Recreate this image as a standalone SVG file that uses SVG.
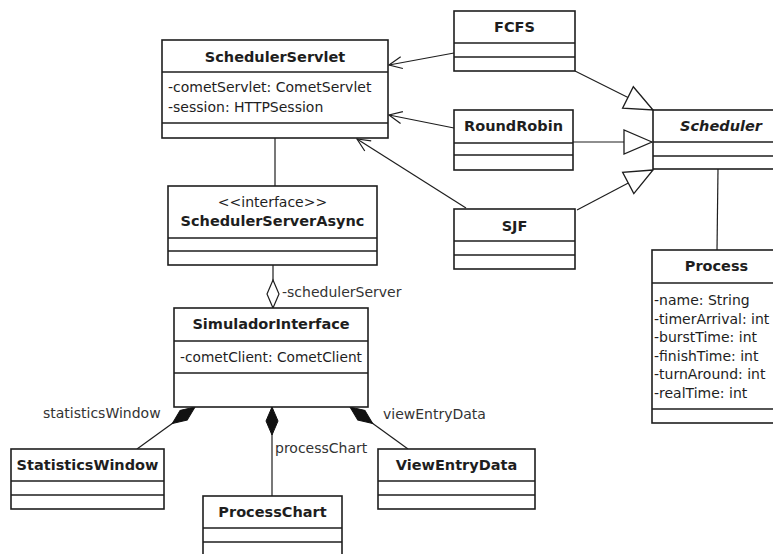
<svg xmlns="http://www.w3.org/2000/svg" width="773" height="554" viewBox="0 0 773 554">
<style>
  .box { fill: #ffffff; stroke: #1e1e1e; stroke-width: 1.6; }
  .sep { stroke: #1e1e1e; stroke-width: 1.6; }
  .name { font-family: "DejaVu Sans", Verdana, sans-serif; font-size: 14.5px; font-weight: bold; fill: #1e1e1e; text-anchor: middle; }
  .ital { font-style: italic; }
  .txt { font-family: "DejaVu Sans", Verdana, sans-serif; font-size: 14px; fill: #1e1e1e; }
  .mid { text-anchor: middle; }
  .lbl { font-family: "DejaVu Sans", Verdana, sans-serif; font-size: 14px; fill: #333333; }
  .conn { stroke: #1e1e1e; stroke-width: 1.2; fill: none; }
</style>
<defs>
  <marker id="triangle" markerUnits="userSpaceOnUse" markerWidth="30" markerHeight="26" refX="0" refY="0" orient="auto" overflow="visible">
    <path d="M0,0 L-28,-12 L-28,12 Z" fill="#ffffff" stroke="#1e1e1e" stroke-width="1.3"/>
  </marker>
  <marker id="open" markerUnits="userSpaceOnUse" markerWidth="14" markerHeight="14" refX="0" refY="0" orient="auto" overflow="visible">
    <path d="M-13,-6 L0,0 L-13,6" fill="none" stroke="#1e1e1e" stroke-width="1.2"/>
  </marker>
  <marker id="diamondFilled" markerUnits="userSpaceOnUse" markerWidth="30" markerHeight="14" refX="0" refY="0" orient="auto" overflow="visible">
    <path d="M0,0 L14,-6 L28,0 L14,6 Z" fill="#111111" stroke="#111111" stroke-width="1"/>
  </marker>
  <marker id="diamondHollow" markerUnits="userSpaceOnUse" markerWidth="30" markerHeight="14" refX="0" refY="0" orient="auto" overflow="visible">
    <path d="M0,0 L14,-6 L28,0 L14,6 Z" fill="#ffffff" stroke="#1e1e1e" stroke-width="1.2"/>
  </marker>
</defs>

<g id="connectors">
  <!-- generalizations -->
  <line class="conn" x1="575" y1="71" x2="653" y2="110" marker-end="url(#triangle)"/>
  <line class="conn" x1="573" y1="142" x2="652" y2="142" marker-end="url(#triangle)"/>
  <line class="conn" x1="577" y1="210" x2="653" y2="170" marker-end="url(#triangle)"/>
  <!-- navigable associations to SchedulerServlet -->
  <line class="conn" x1="454" y1="53" x2="389" y2="65" marker-end="url(#open)"/>
  <line class="conn" x1="454" y1="128" x2="389" y2="115" marker-end="url(#open)"/>
  <line class="conn" x1="466" y1="208" x2="357" y2="139" marker-end="url(#open)"/>
  <!-- plain associations -->
  <line class="conn" x1="275" y1="138" x2="275" y2="186"/>
  <line class="conn" x1="718" y1="169" x2="717" y2="250"/>
  <!-- aggregation -->
  <line class="conn" x1="273" y1="308" x2="273" y2="265" marker-start="url(#diamondHollow)"/>
  <text class="lbl" x="282" y="297">-schedulerServer</text>
  <!-- compositions -->
  <line class="conn" x1="195" y1="407" x2="137" y2="449" marker-start="url(#diamondFilled)"/>
  <text class="lbl" x="43" y="418">statisticsWindow</text>
  <line class="conn" x1="272" y1="407" x2="272" y2="496" marker-start="url(#diamondFilled)"/>
  <text class="lbl" x="275" y="453">processChart</text>
  <line class="conn" x1="350" y1="407" x2="408" y2="449" marker-start="url(#diamondFilled)"/>
  <text class="lbl" x="383" y="419">viewEntryData</text>
</g>

<g id="SchedulerServlet">
  <rect class="box" x="162" y="40" width="226" height="98"/>
  <line class="sep" x1="162" y1="72" x2="388" y2="72"/>
  <line class="sep" x1="162" y1="123" x2="388" y2="123"/>
  <text class="name" x="275" y="62">SchedulerServlet</text>
  <text class="txt" x="168" y="92">-cometServlet: CometServlet</text>
  <text class="txt" x="168" y="112">-session: HTTPSession</text>
</g>

<g id="FCFS">
  <rect class="box" x="454" y="11" width="121" height="60"/>
  <line class="sep" x1="454" y1="43" x2="575" y2="43"/>
  <line class="sep" x1="454" y1="57" x2="575" y2="57"/>
  <text class="name" x="514.5" y="32">FCFS</text>
</g>

<g id="RoundRobin">
  <rect class="box" x="454" y="110" width="119" height="60"/>
  <line class="sep" x1="454" y1="143" x2="573" y2="143"/>
  <line class="sep" x1="454" y1="155" x2="573" y2="155"/>
  <text class="name" x="513.5" y="131">RoundRobin</text>
</g>

<g id="SJF">
  <rect class="box" x="454" y="209" width="121" height="60"/>
  <line class="sep" x1="454" y1="241" x2="575" y2="241"/>
  <line class="sep" x1="454" y1="255" x2="575" y2="255"/>
  <text class="name" x="514.5" y="231">SJF</text>
</g>

<g id="Scheduler">
  <rect class="box" x="653" y="110" width="137" height="59"/>
  <line class="sep" x1="653" y1="142" x2="790" y2="142"/>
  <line class="sep" x1="653" y1="156" x2="790" y2="156"/>
  <text class="name ital" x="721" y="131">Scheduler</text>
</g>

<g id="Process">
  <rect class="box" x="652" y="250" width="129" height="173"/>
  <line class="sep" x1="652" y1="283" x2="781" y2="283"/>
  <line class="sep" x1="652" y1="409" x2="781" y2="409"/>
  <text class="name" x="716.5" y="271">Process</text>
  <text class="txt" x="654" y="305">-name: String</text>
  <text class="txt" x="654" y="323.6">-timerArrival: int</text>
  <text class="txt" x="654" y="342.2">-burstTime: int</text>
  <text class="txt" x="654" y="360.8">-finishTime: int</text>
  <text class="txt" x="654" y="379.4">-turnAround: int</text>
  <text class="txt" x="654" y="398">-realTime: int</text>
</g>

<g id="SchedulerServerAsync">
  <rect class="box" x="168" y="186" width="209" height="79"/>
  <line class="sep" x1="168" y1="238" x2="377" y2="238"/>
  <line class="sep" x1="168" y1="251" x2="377" y2="251"/>
  <text class="txt mid" x="272.5" y="207">&lt;&lt;interface&gt;&gt;</text>
  <text class="name" x="272.5" y="226">SchedulerServerAsync</text>
</g>

<g id="SimuladorInterface">
  <rect class="box" x="174" y="308" width="194" height="99"/>
  <line class="sep" x1="174" y1="341" x2="368" y2="341"/>
  <line class="sep" x1="174" y1="373" x2="368" y2="373"/>
  <text class="name" x="271" y="329">SimuladorInterface</text>
  <text class="txt" x="180" y="362" textLength="182" lengthAdjust="spacingAndGlyphs">-cometClient: CometClient</text>
</g>

<g id="StatisticsWindow">
  <rect class="box" x="11" y="449" width="153" height="60"/>
  <line class="sep" x1="11" y1="481" x2="164" y2="481"/>
  <line class="sep" x1="11" y1="495" x2="164" y2="495"/>
  <text class="name" x="87.5" y="470">StatisticsWindow</text>
</g>

<g id="ProcessChart">
  <rect class="box" x="203" y="496" width="139" height="70"/>
  <line class="sep" x1="203" y1="528" x2="342" y2="528"/>
  <line class="sep" x1="203" y1="542" x2="342" y2="542"/>
  <text class="name" x="272.5" y="517">ProcessChart</text>
</g>

<g id="ViewEntryData">
  <rect class="box" x="378" y="449" width="157" height="60"/>
  <line class="sep" x1="378" y1="481" x2="535" y2="481"/>
  <line class="sep" x1="378" y1="495" x2="535" y2="495"/>
  <text class="name" x="456.5" y="470">ViewEntryData</text>
</g>
</svg>
